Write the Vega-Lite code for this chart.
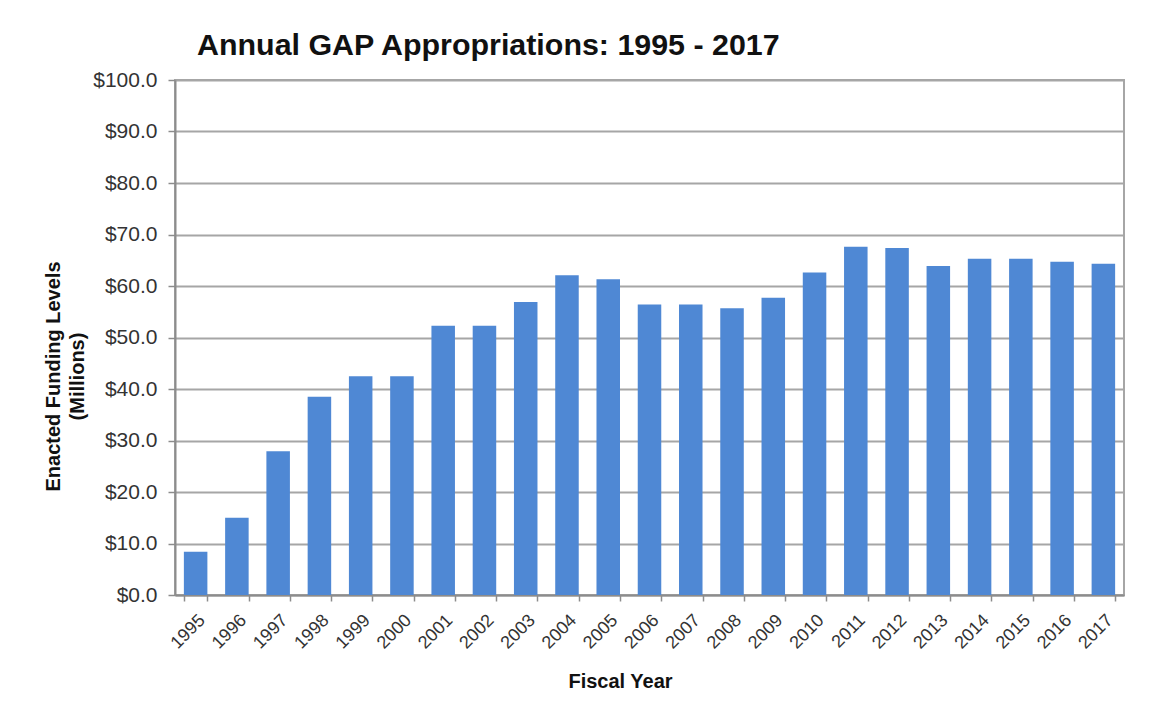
{
  "$schema": "https://vega.github.io/schema/vega-lite/v6.json",
  "width": 949,
  "height": 515,
  "autosize": {"type": "none"},
  "padding": {"left": 175, "top": 80, "right": 45, "bottom": 112},
  "background": "white",
  "title": {
    "text": "Annual GAP Appropriations: 1995 - 2017",
    "anchor": "start",
    "frame": "group",
    "dx": 22,
    "offset": 8,
    "fontSize": 30.4,
    "font": "Liberation Sans",
    "fontWeight": "bold",
    "color": "#111111"
  },
  "data": {
    "values": [
      {"year": "1995", "funding": 8.4},
      {"year": "1996", "funding": 15.0},
      {"year": "1997", "funding": 27.9},
      {"year": "1998", "funding": 38.5},
      {"year": "1999", "funding": 42.5},
      {"year": "2000", "funding": 42.5},
      {"year": "2001", "funding": 52.3},
      {"year": "2002", "funding": 52.3},
      {"year": "2003", "funding": 56.9},
      {"year": "2004", "funding": 62.1},
      {"year": "2005", "funding": 61.3},
      {"year": "2006", "funding": 56.4},
      {"year": "2007", "funding": 56.4},
      {"year": "2008", "funding": 55.7},
      {"year": "2009", "funding": 57.7},
      {"year": "2010", "funding": 62.6},
      {"year": "2011", "funding": 67.6},
      {"year": "2012", "funding": 67.4},
      {"year": "2013", "funding": 63.9},
      {"year": "2014", "funding": 65.3},
      {"year": "2015", "funding": 65.3},
      {"year": "2016", "funding": 64.7},
      {"year": "2017", "funding": 64.3}
    ]
  },
  "mark": {"type": "bar", "color": "#4f88d4"},
  "encoding": {
    "x": {
      "field": "year",
      "type": "ordinal",
      "scale": {"paddingInner": 0.43, "paddingOuter": 0.215},
      "axis": {
        "title": "Fiscal Year",
        "titleFont": "Liberation Sans",
        "titleFontSize": 20,
        "titleFontWeight": "bold",
        "titleColor": "#111111",
        "titleX": 445,
        "titleY": 92,
        "titleAlign": "center",
        "titleBaseline": "alphabetic",
        "labelAngle": -45,
        "labelAlign": "right",
        "labelBaseline": "top",
        "labelFont": "Liberation Sans",
        "labelFontSize": 18,
        "labelColor": "#333333",
        "labelPadding": 10,
        "tickBand": "extent",
        "tickSize": 6,
        "tickColor": "#8c8c8c",
        "tickWidth": 1.5,
        "domainColor": "#8c8c8c",
        "domainWidth": 2,
        "grid": false
      }
    },
    "y": {
      "field": "funding",
      "type": "quantitative",
      "scale": {"domain": [0, 100], "nice": false},
      "axis": {
        "title": ["Enacted Funding Levels", "(Millions)"],
        "titleFont": "Liberation Sans",
        "titleFontSize": 20,
        "titleFontWeight": "bold",
        "titleColor": "#111111",
        "titleLineHeight": 24,
        "titleAngle": -90,
        "titleX": -122,
        "titleY": 296,
        "titleAlign": "center",
        "titleBaseline": "middle",
        "values": [0, 10, 20, 30, 40, 50, 60, 70, 80, 90, 100],
        "format": "$.1f",
        "labelFont": "Liberation Sans",
        "labelFontSize": 21,
        "labelColor": "#333333",
        "labelPadding": 11,
        "tickSize": 7,
        "tickColor": "#8c8c8c",
        "tickWidth": 1.5,
        "domainColor": "#8c8c8c",
        "domainWidth": 2,
        "gridColor": "#a6a6a6",
        "gridWidth": 2
      }
    }
  },
  "config": {
    "view": {"stroke": "#a6a6a6", "strokeWidth": 2}
  }
}
